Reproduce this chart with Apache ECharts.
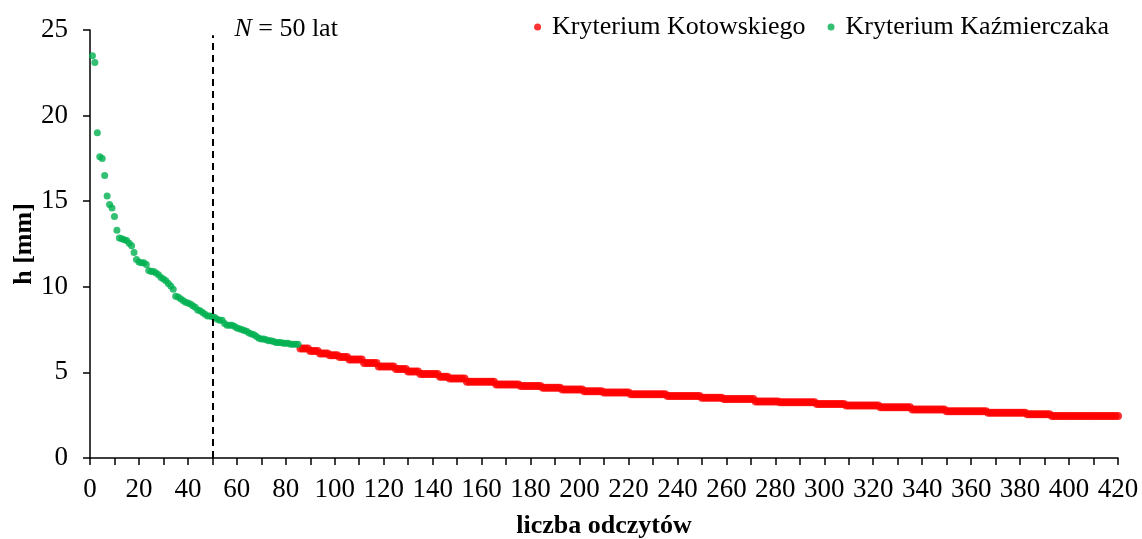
<!DOCTYPE html>
<html>
<head>
<meta charset="utf-8">
<script src="https://cdn.jsdelivr.net/npm/echarts@6/dist/echarts.min.js"></script>
<style>
  html, body { margin: 0; padding: 0; background: #fff; }
  #chart { width: 1142px; height: 539px; }
</style>
</head>
<body>
<div id="chart"></div>
<script>
// Reading ranks 1..85 (Kaźmierczak criterion), h in mm
const kazmierczakH = [
  23.5, 23.1, 19.0, 17.6, 17.5, 16.5, 15.3, 14.8, 14.6, 14.1,
  13.3, 12.85, 12.8, 12.75, 12.7, 12.55, 12.4, 12.0, 11.6, 11.45,
  11.4, 11.4, 11.3, 10.95, 10.9, 10.9, 10.8, 10.7, 10.55, 10.45,
  10.35, 10.2, 10.05, 9.85, 9.45, 9.4, 9.3, 9.2, 9.1, 9.05,
  9.0, 8.9, 8.8, 8.65, 8.6, 8.5, 8.4, 8.3, 8.3, 8.25,
  8.2, 8.1, 8.05, 8.05, 7.85, 7.75, 7.75, 7.75, 7.7, 7.6,
  7.55, 7.5, 7.45, 7.4, 7.3, 7.25, 7.2, 7.1, 7.0, 6.95,
  6.95, 6.9, 6.85, 6.85, 6.8, 6.75, 6.75, 6.75, 6.7, 6.7,
  6.7, 6.65, 6.65, 6.65, 6.65
];
const kazmierczakStart = 1;

// Reading ranks 86..420 (Kotowski criterion), h in mm
const kotowskiH = [
  6.4, 6.4, 6.4, 6.4,
  6.25, 6.25, 6.25, 6.25,
  6.1, 6.1, 6.1, 6.1,
  6.0, 6.0, 6.0, 6.0,
  5.9, 5.9, 5.9, 5.9,
  5.75, 5.75, 5.75, 5.75, 5.75, 5.75,
  5.55, 5.55, 5.55, 5.55, 5.55, 5.55,
  5.35, 5.35, 5.35, 5.35, 5.35, 5.35, 5.35,
  5.2, 5.2, 5.2, 5.2, 5.2,
  5.05, 5.05, 5.05, 5.05, 5.05,
  4.9, 4.9, 4.9, 4.9, 4.9, 4.9, 4.9, 4.9,
  4.75, 4.75, 4.75, 4.75,
  4.65, 4.65, 4.65, 4.65, 4.65, 4.65, 4.65,
  4.45, 4.45, 4.45, 4.45, 4.45, 4.45, 4.45, 4.45, 4.45, 4.45, 4.45, 4.45,
  4.3, 4.3, 4.3, 4.3, 4.3, 4.3, 4.3, 4.3, 4.3, 4.3,
  4.2, 4.2, 4.2, 4.2, 4.2, 4.2, 4.2, 4.2, 4.2,
  4.1, 4.1, 4.1, 4.1, 4.1, 4.1, 4.1, 4.1,
  4.0, 4.0, 4.0, 4.0, 4.0, 4.0, 4.0, 4.0, 4.0,
  3.9, 3.9, 3.9, 3.9, 3.9, 3.9, 3.9, 3.9,
  3.82, 3.82, 3.82, 3.82, 3.82, 3.82, 3.82, 3.82, 3.82, 3.82, 3.82,
  3.72, 3.72, 3.72, 3.72, 3.72, 3.72, 3.72, 3.72, 3.72, 3.72, 3.72, 3.72, 3.72, 3.72, 3.72,
  3.62, 3.62, 3.62, 3.62, 3.62, 3.62, 3.62, 3.62, 3.62, 3.62, 3.62, 3.62, 3.62, 3.62,
  3.52, 3.52, 3.52, 3.52, 3.52, 3.52, 3.52, 3.52, 3.52,
  3.44, 3.44, 3.44, 3.44, 3.44, 3.44, 3.44, 3.44, 3.44, 3.44, 3.44, 3.44, 3.44,
  3.3, 3.3, 3.3, 3.3, 3.3, 3.3, 3.3, 3.3, 3.3, 3.3,
  3.25, 3.25, 3.25, 3.25, 3.25, 3.25, 3.25, 3.25, 3.25, 3.25, 3.25, 3.25, 3.25, 3.25, 3.25,
  3.15, 3.15, 3.15, 3.15, 3.15, 3.15, 3.15, 3.15, 3.15, 3.15, 3.15, 3.15,
  3.06, 3.06, 3.06, 3.06, 3.06, 3.06, 3.06, 3.06, 3.06, 3.06, 3.06, 3.06, 3.06, 3.06,
  2.96, 2.96, 2.96, 2.96, 2.96, 2.96, 2.96, 2.96, 2.96, 2.96, 2.96, 2.96, 2.96,
  2.84, 2.84, 2.84, 2.84, 2.84, 2.84, 2.84, 2.84, 2.84, 2.84, 2.84, 2.84, 2.84, 2.84,
  2.73, 2.73, 2.73, 2.73, 2.73, 2.73, 2.73, 2.73, 2.73, 2.73, 2.73, 2.73, 2.73, 2.73, 2.73, 2.73, 2.73,
  2.65, 2.65, 2.65, 2.65, 2.65, 2.65, 2.65, 2.65, 2.65, 2.65, 2.65, 2.65, 2.65, 2.65, 2.65, 2.65,
  2.55, 2.55, 2.55, 2.55, 2.55, 2.55, 2.55, 2.55, 2.55, 2.55,
  2.45, 2.45, 2.45, 2.45, 2.45, 2.45, 2.45, 2.45, 2.45, 2.45, 2.45, 2.45, 2.45, 2.45,
  2.45, 2.45, 2.45, 2.45, 2.45, 2.45, 2.45, 2.45, 2.45, 2.45, 2.45, 2.45, 2.45, 2.45
];
const kotowskiStart = 86;

const seriesNames = ['Kryterium Kotowskiego', 'Kryterium Kaźmierczaka'];
const refYears = 50;       // N = 50 lat
const refLineTop = 24.7;

const FONT = '"Liberation Serif", "Times New Roman", serif';
const TICK_SIZE = 27;
const TEXT_SIZE = 26;

const toPoints = (arr, start) => arr.map((h, i) => [start + i, h]);

const chart = echarts.init(document.getElementById('chart'), null, { renderer: 'canvas' });

chart.setOption({
  animation: false,
  backgroundColor: '#ffffff',
  textStyle: { fontFamily: FONT, color: '#000' },
  grid: { left: 90, right: 24, top: 30, bottom: 81, containLabel: false, outerBoundsMode: 'none' },
  legend: {
    data: seriesNames,
    right: 28,
    top: 9,
    icon: 'circle',
    itemWidth: 7,
    itemHeight: 7,
    itemGap: 22,
    textStyle: { fontFamily: FONT, fontSize: TEXT_SIZE, color: '#000', padding: [0, 0, 0, 6] }
  },
  xAxis: {
    type: 'value',
    min: 0,
    max: 420,
    interval: 20,
    name: 'liczba odczytów',
    nameLocation: 'middle',
    nameGap: 55,
    nameMoveOverlap: false,
    nameTextStyle: { fontFamily: FONT, fontSize: TEXT_SIZE, fontWeight: 'bold', color: '#000' },
    axisLine: { onZero: false, lineStyle: { color: '#000', width: 1.5 } },
    axisTick: { show: true, length: 7, lineStyle: { color: '#000', width: 1.5 } },
    minorTick: { show: true, splitNumber: 2, length: 7, lineStyle: { color: '#000', width: 1.5 } },
    axisLabel: { fontFamily: FONT, fontSize: TICK_SIZE, color: '#000', margin: 18 },
    splitLine: { show: false }
  },
  yAxis: {
    type: 'value',
    min: 0,
    max: 25,
    interval: 5,
    name: 'h [mm]',
    nameLocation: 'middle',
    nameGap: 53,
    nameMoveOverlap: false,
    nameTextStyle: { fontFamily: FONT, fontSize: TEXT_SIZE, fontWeight: 'bold', color: '#000' },
    axisLine: { show: true, lineStyle: { color: '#000', width: 1.5 } },
    axisTick: { show: true, length: 7, lineStyle: { color: '#000', width: 1.5 } },
    axisLabel: { fontFamily: FONT, fontSize: TICK_SIZE, color: '#000', margin: 22 },
    splitLine: { show: false }
  },
  series: [
    {
      name: seriesNames[0],
      type: 'scatter',
      symbol: 'circle',
      symbolSize: 8,
      itemStyle: { color: '#FF0000' },
      data: toPoints(kotowskiH, kotowskiStart),
      z: 3
    },
    {
      name: seriesNames[1],
      type: 'scatter',
      symbol: 'circle',
      symbolSize: 7,
      itemStyle: { color: '#00B050' },
      data: toPoints(kazmierczakH, kazmierczakStart),
      z: 3,
      markLine: {
        silent: true,
        symbol: ['none', 'none'],
        lineStyle: { color: '#000', type: [7, 5], width: 2 },
        label: { show: false },
        data: [[{ coord: [refYears, 0] }, { coord: [refYears, refLineTop] }]]
      }
    }
  ]
});

// Annotation next to the reference line, placed through the axis scales
const anchor = chart.convertToPixel({ xAxisIndex: 0, yAxisIndex: 0 }, [refYears, 25]);
chart.setOption({
  graphic: [{
    type: 'text',
    x: anchor[0] + 22,
    y: anchor[1] - 1,
    style: {
      text: '{i|N} = ' + refYears + ' lat',
      fontFamily: FONT,
      fontSize: TEXT_SIZE,
      fill: '#000',
      verticalAlign: 'middle',
      rich: {
        i: { fontFamily: FONT, fontSize: TEXT_SIZE, fontStyle: 'italic', fill: '#000' }
      }
    }
  }]
});
</script>
</body>
</html>
